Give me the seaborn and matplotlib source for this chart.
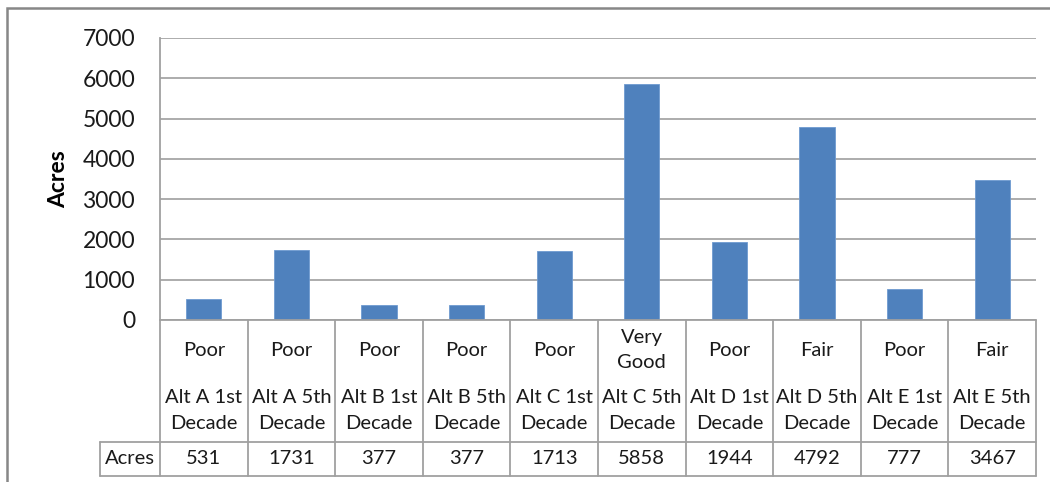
import matplotlib
matplotlib.use("Agg")
import matplotlib.pyplot as plt
import matplotlib.transforms as mtransforms
from matplotlib.patches import Rectangle
import seaborn as sns
import pandas as pd

# ---- data ----
periods = ["Alt A 1st\nDecade", "Alt A 5th\nDecade", "Alt B 1st\nDecade", "Alt B 5th\nDecade",
           "Alt C 1st\nDecade", "Alt C 5th\nDecade", "Alt D 1st\nDecade", "Alt D 5th\nDecade",
           "Alt E 1st\nDecade", "Alt E 5th\nDecade"]
conditions = ["Poor", "Poor", "Poor", "Poor", "Poor", "Very\nGood", "Poor", "Fair", "Poor", "Fair"]
acres = [531, 1731, 377, 377, 1713, 5858, 1944, 4792, 777, 3467]
series_name = "Acres"
y_ticks = [0, 1000, 2000, 3000, 4000, 5000, 6000, 7000]

df = pd.DataFrame({"period": periods, "acres": acres})

sns.set_style("white")
plt.rcParams["font.family"] = ["Lato", "DejaVu Sans"]

W, H = 1050, 482
fig = plt.figure(figsize=(W / 100, H / 100), dpi=100)
ax = fig.add_axes([160 / W, 1 - 320 / H, (1036 - 160) / W, (320 - 38) / H])

bar_color = "#4f81bd"
grid_color = "#a6a6a6"
line_color = "#a0a0a0"

sns.barplot(data=df, x="period", y="acres", color=bar_color, width=0.4,
            saturation=1, ax=ax, edgecolor="#6f9ad0", linewidth=0.6, zorder=3)

ax.set_xlim(-0.5, len(periods) - 0.5)
ax.set_ylim(0, 7000)
ax.set_yticks(y_ticks)
ax.set_yticklabels([str(t) for t in y_ticks], fontsize=16.5, color="#1a1a1a")
ax.tick_params(axis="y", length=0, pad=18)
ax.tick_params(axis="x", length=0)
ax.set_xticks([])
ax.set_xlabel("")
ax.yaxis.grid(True, color=grid_color, linewidth=1.3, zorder=0)
ax.set_axisbelow(True)
for s in ["top", "right", "bottom"]:
    ax.spines[s].set_visible(False)
ax.spines["left"].set_color(line_color)
ax.spines["left"].set_linewidth(1.3)

ax.set_ylabel("Acres", fontsize=16.5, fontweight="bold", va="center", color="black")
ax.yaxis.set_label_coords(-0.1153, 0.5)

# ---- data table below the plot ----
trans = mtransforms.blended_transform_factory(ax.transData, ax.transAxes)
def yf(py):
    return (320 - py) / 282.0

n = len(periods)
y_top, y_mid, y_bot = yf(320), yf(442), yf(475.7)
x_left_lab = -0.5 - 60 / 87.6
lw = 1.3
# horizontal lines
ax.plot([-0.5, n - 0.5], [y_top, y_top], transform=trans, color=line_color, lw=lw, clip_on=False, zorder=4)
ax.plot([x_left_lab, n - 0.5], [y_mid, y_mid], transform=trans, color=line_color, lw=lw, clip_on=False)
ax.plot([x_left_lab, n - 0.5], [y_bot, y_bot], transform=trans, color=line_color, lw=lw, clip_on=False)
# vertical lines
for i in range(n + 1):
    xb = i - 0.5
    ax.plot([xb, xb], [y_top, y_bot], transform=trans, color=line_color, lw=lw, clip_on=False)
ax.plot([x_left_lab, x_left_lab], [y_mid, y_bot], transform=trans, color=line_color, lw=lw, clip_on=False)

txt_kw = dict(transform=trans, ha="center", va="center", fontsize=14.5, color="#1a1a1a",
              clip_on=False, linespacing=1.6)
for i, (p, c, v) in enumerate(zip(periods, conditions, acres)):
    ax.text(i, yf(350), c, **txt_kw)
    ax.text(i, yf(410.5), p, **txt_kw)
    ax.text(i, yf(458), str(v), **txt_kw)
ax.text((x_left_lab - 0.5) / 2, yf(458), series_name, **txt_kw)

# outer chart border
fig.add_artist(Rectangle((7 / W, -0.1), 2, (1 - 8 / H) + 0.1, transform=fig.transFigure,
                         fill=False, edgecolor="#878787", lw=1.8))

fig.savefig("out.png", dpi=100)
